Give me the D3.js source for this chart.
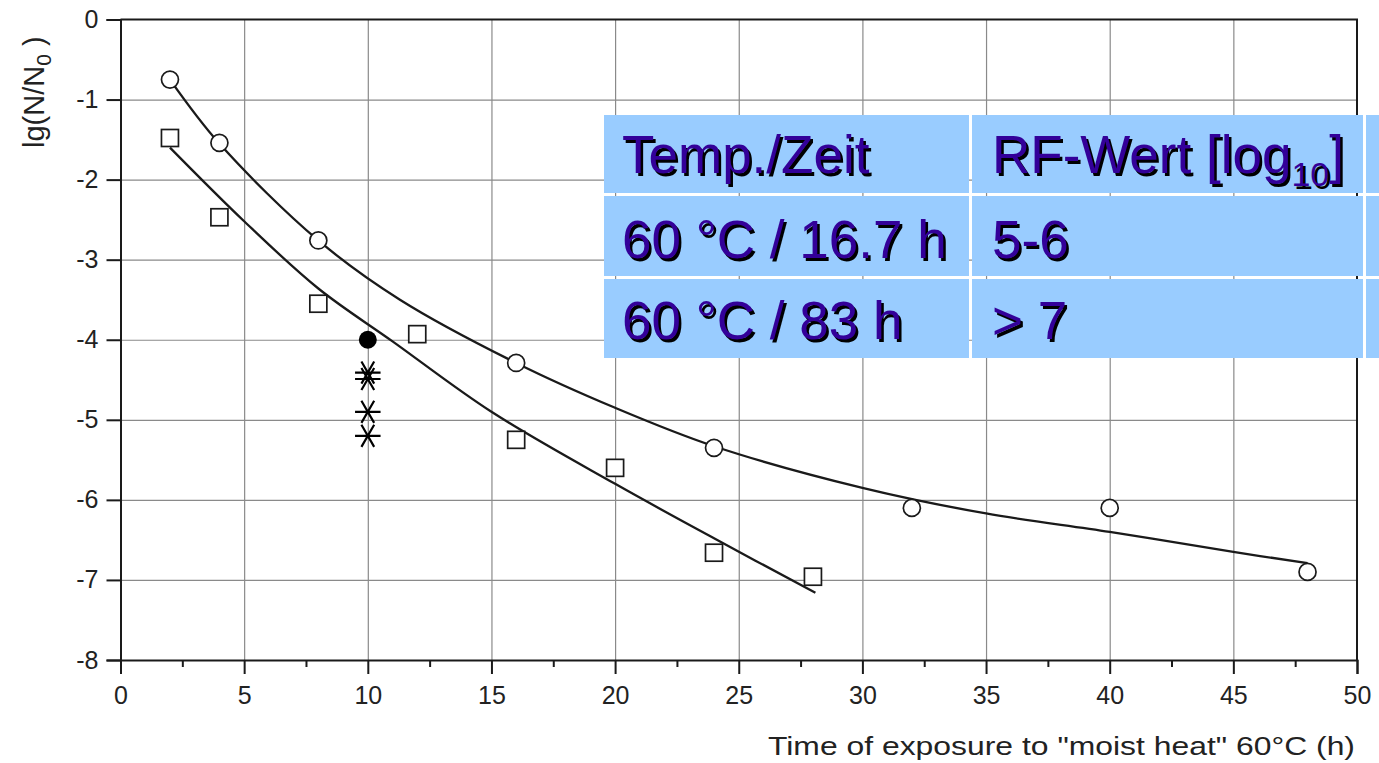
<!DOCTYPE html>
<html>
<head>
<meta charset="utf-8">
<script src="https://cdn.jsdelivr.net/npm/d3@7"></script>
<style>
  html, body { margin: 0; padding: 0; background: #fff; }
  svg { display: block; font-family: "Liberation Sans", Arial, sans-serif; }
</style>
</head>
<body>
<svg id="chart" width="1379" height="763"></svg>
<script>
// ---------------- data ----------------
const xTicks = [0, 5, 10, 15, 20, 25, 30, 35, 40, 45, 50];
const xMinorTicks = [2.5, 7.5, 12.5, 17.5, 22.5, 27.5, 32.5, 37.5, 42.5, 47.5];
const yTicks = [0, -1, -2, -3, -4, -5, -6, -7, -8];

// open circles
const circleX = [2, 4, 8, 16, 24, 32, 40, 48];
const circleY = [-0.75, -1.54, -2.76, -4.29, -5.35, -6.1, -6.1, -6.9];
// open squares
const squareX = [2, 4, 8, 12, 16, 20, 24, 28];
const squareY = [-1.48, -2.47, -3.55, -3.93, -5.25, -5.6, -6.66, -6.96];
// filled circle
const filledX = [10];
const filledY = [-4.0];
// asterisks
const starX = [10, 10, 10, 10];
const starY = [-4.41, -4.49, -4.9, -5.2];

// fitted curves
const upperFitX = [2, 4, 8, 11.3, 16, 20, 24, 30, 35, 40, 45, 48];
const upperFitY = [-0.75, -1.55, -2.76, -3.5, -4.29, -4.85, -5.33, -5.85, -6.17, -6.4, -6.65, -6.79];
const lowerFitX = [2, 5, 8, 11, 15, 20, 24, 28.1];
const lowerFitY = [-1.6, -2.52, -3.36, -4.02, -4.9, -5.8, -6.48, -7.16];

// table
const tableHeader = ["Temp./Zeit", "RF-Wert [log", "10", "]"];
const tableRows = [["60 °C / 16.7 h", "5-6"], ["60 °C / 83 h", "> 7"]];

const xTitle = "Time of exposure to \"moist heat\" 60°C (h)";

// ---------------- layout ----------------
const svg = d3.select("#chart");
const L = 120.5, R = 1357, T = 19.5, B = 660;
const x = d3.scaleLinear().domain([0, 50]).range([L, R]);
const y = d3.scaleLinear().domain([-8, 0]).range([B, T]);
const ink = "#1a1a1a";

// grid
const grid = svg.append("g");
grid.append("g").attr("transform", `translate(0,${B})`)
  .call(d3.axisBottom(x).tickValues(xTicks.slice(1, -1)).tickSize(-(B - T)).tickFormat(""))
  .call(g => g.select(".domain").remove())
  .call(g => g.selectAll("line").attr("stroke", "#8a8a8a").attr("stroke-width", 1.2));
grid.append("g").attr("transform", `translate(${L},0)`)
  .call(d3.axisLeft(y).tickValues(yTicks.slice(1, -1)).tickSize(-(R - L)).tickFormat(""))
  .call(g => g.select(".domain").remove())
  .call(g => g.selectAll("line").attr("stroke", "#8a8a8a").attr("stroke-width", 1.2));

// frame (top & right)
svg.append("path")
  .attr("d", `M${L},${T}H${R}V${B}`)
  .attr("fill", "none").attr("stroke", ink).attr("stroke-width", 2);

// axes
const xAxis = svg.append("g").attr("transform", `translate(0,${B})`)
  .call(d3.axisBottom(x).tickValues(xTicks).tickSize(14).tickPadding(12).tickFormat(d3.format("d")));
const xMinor = svg.append("g").attr("transform", `translate(0,${B})`)
  .call(d3.axisBottom(x).tickValues(xMinorTicks).tickSize(7).tickFormat(""));
xMinor.select(".domain").remove();
const yAxis = svg.append("g").attr("transform", `translate(${L},0)`)
  .call(d3.axisLeft(y).tickValues(yTicks).tickSize(14).tickPadding(8).tickFormat(d3.format("d")));

[xAxis, xMinor, yAxis].forEach(g => {
  g.selectAll(".domain").attr("stroke", ink).attr("stroke-width", 2);
  g.selectAll(".tick line").attr("stroke", ink).attr("stroke-width", 2);
  g.selectAll(".tick text").attr("fill", "#222").style("font-size", "25px")
    .style("font-family", "'Liberation Sans', Arial, sans-serif");
});
yAxis.selectAll(".tick text").text(d => d === 0 ? "0" : String(d).replace("\u2212", "-"));

// axis titles
svg.append("text")
  .attr("x", 1355).attr("y", 755)
  .attr("text-anchor", "end")
  .attr("fill", "#222")
  .style("font-size", "26px")
  .attr("textLength", 587).attr("lengthAdjust", "spacingAndGlyphs")
  .text(xTitle);

const yl = svg.append("text")
  .attr("transform", "translate(44,148) rotate(-90)")
  .attr("fill", "#222")
  .style("font-size", "29px");
yl.append("tspan").text("lg(N/N");
yl.append("tspan").attr("dy", 7).style("font-size", "21px").text("0");
yl.append("tspan").attr("dy", -7).text(" )");

// fitted curves
const line = d3.line().curve(d3.curveCatmullRom.alpha(0.5)).x(d => x(d[0])).y(d => y(d[1]));
svg.append("path").datum(d3.zip(upperFitX, upperFitY)).attr("d", line)
  .attr("fill", "none").attr("stroke", ink).attr("stroke-width", 2.3);
svg.append("path").datum(d3.zip(lowerFitX, lowerFitY)).attr("d", line)
  .attr("fill", "none").attr("stroke", ink).attr("stroke-width", 2.3);

// markers
svg.append("g").selectAll("circle").data(d3.zip(circleX, circleY)).join("circle")
  .attr("cx", d => x(d[0])).attr("cy", d => y(d[1])).attr("r", 8.5)
  .attr("fill", "#fff").attr("stroke", ink).attr("stroke-width", 1.7);
const sq = 17;
svg.append("g").selectAll("rect").data(d3.zip(squareX, squareY)).join("rect")
  .attr("x", d => x(d[0]) - sq / 2).attr("y", d => y(d[1]) - sq / 2)
  .attr("width", sq).attr("height", sq)
  .attr("fill", "#fff").attr("stroke", ink).attr("stroke-width", 1.7);
svg.append("g").selectAll("circle").data(d3.zip(filledX, filledY)).join("circle")
  .attr("cx", d => x(d[0])).attr("cy", d => y(d[1])).attr("r", 9)
  .attr("fill", "#000");
const star = d3.symbol().type(d3.symbolAsterisk).size(460);
svg.append("g").selectAll("path").data(d3.zip(starX, starY)).join("path")
  .attr("transform", d => `translate(${x(d[0])},${y(d[1])}) rotate(90)`)
  .attr("d", star)
  .attr("fill", "none").attr("stroke", "#000").attr("stroke-width", 2.2);

// ---------------- table overlay ----------------
const colX = [604, 972, 1366];
const colW = [365, 391, 20];
const rowY = [115, 196, 279];
const rowH = [78, 80, 79];
const tbl = svg.append("g");
rowY.forEach((ry, ri) => {
  colX.forEach((cx, ci) => {
    tbl.append("rect").attr("x", cx).attr("y", ry).attr("width", colW[ci]).attr("height", rowH[ri])
      .attr("fill", "#99ccff");
  });
});
const textBase = [173, 258, 339];
const textX = [622, 992];
const purple = "#330099";
function shadowText(xx, yy, build) {
  [["#000", 2.5], [purple, 0]].forEach(([col, off]) => {
    const t = tbl.append("text").attr("x", xx + off).attr("y", yy + off)
      .attr("fill", col).style("font-size", "53px");
    build(t);
  });
}
shadowText(textX[0], textBase[0], t => t.text(tableHeader[0]));
shadowText(textX[1], textBase[0], t => {
  t.append("tspan").text(tableHeader[1]);
  t.append("tspan").attr("dy", 13).style("font-size", "34px").text(tableHeader[2]);
  t.append("tspan").attr("dy", -13).text(tableHeader[3]);
});
tableRows.forEach((row, ri) => {
  row.forEach((cell, ci) => {
    shadowText(textX[ci], textBase[ri + 1], t => t.text(cell));
  });
});
</script>
</body>
</html>
